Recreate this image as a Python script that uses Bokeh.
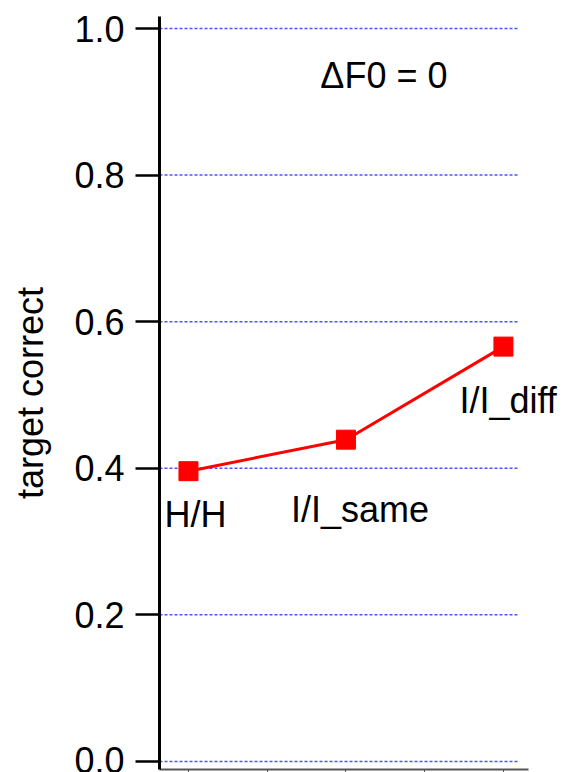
from bokeh.plotting import figure
from bokeh.models import ColumnDataSource, Label, FixedTicker, PrintfTickFormatter, Range1d
from bokeh.embed import file_html
from bokeh.resources import INLINE

conditions = ["H/H", "I/I_same", "I/I_diff"]
cond_x = [0, 1, 2]
target_correct = [0.396, 0.439, 0.566]
y_ticks = [0.0, 0.2, 0.4, 0.6, 0.8, 1.0]
x_ticks = [0, 0.5, 1, 1.5, 2]
note = "\u0394F0 = 0"

FONT = "Liberation Sans"
X_LEFT, X_AXIS_END, GRID_END = -0.184, 2.159, 2.095

source = ColumnDataSource(dict(x=cond_x, y=target_correct, name=conditions))

p = figure(width=565, height=772,
           x_range=Range1d(X_LEFT, 2.394),
           y_range=Range1d(-0.011, 1.0164),
           output_backend="svg", toolbar_location=None,
           min_border_left=159, min_border_right=0,
           min_border_top=16, min_border_bottom=0)
p.outline_line_color = None
p.background_fill_color = "white"
p.border_fill_color = "white"

# y axis
p.yaxis.ticker = FixedTicker(ticks=y_ticks)
p.yaxis.formatter = PrintfTickFormatter(format="%.1f")
p.yaxis.axis_label = "target correct"
p.yaxis.axis_label_text_font = FONT
p.yaxis.axis_label_text_font_style = "normal"
p.yaxis.axis_label_text_font_size = "36px"
p.yaxis.axis_label_text_color = "black"
p.yaxis.axis_label_standoff = 20
p.yaxis.major_label_text_font = FONT
p.yaxis.major_label_text_font_size = "36px"
p.yaxis.major_label_text_color = "black"
p.yaxis.major_label_standoff = 11
p.yaxis.axis_line_width = 3
p.yaxis.axis_line_color = "black"
p.yaxis.major_tick_line_width = 2.5
p.yaxis.major_tick_line_color = "black"
p.yaxis.major_tick_out = 24
p.yaxis.major_tick_in = 0
p.yaxis.minor_tick_line_color = None

# x axis: just a grey line with tiny ticks, no labels
p.xaxis.ticker = FixedTicker(ticks=x_ticks)
p.xaxis.bounds = (X_LEFT, X_AXIS_END)
p.xaxis.major_label_overrides = {t: "" for t in x_ticks}
p.xaxis.major_label_standoff = 0
p.xaxis.axis_line_color = "#555555"
p.xaxis.axis_line_width = 2
p.xaxis.major_tick_line_color = "#555555"
p.xaxis.major_tick_out = 3
p.xaxis.major_tick_in = 0
p.xaxis.minor_tick_line_color = None

# dotted horizontal grid, stopping short of the right edge
p.xgrid.grid_line_color = None
p.ygrid.grid_line_color = None
p.segment(x0=[X_LEFT] * len(y_ticks), x1=[GRID_END] * len(y_ticks),
          y0=y_ticks, y1=y_ticks, line_color="#5050ff", line_width=1.5,
          line_dash="3 2")

p.line(x="x", y="y", source=source, line_color="red", line_width=3)
p.scatter(x="x", y="y", source=source, marker="square", size=19,
          fill_color="red", line_color="red")

offsets = [(-24, -43), (-55, -70), (-44, -54)]
for xv, yv, name, (dx, dy) in zip(cond_x, target_correct, conditions, offsets):
    p.add_layout(Label(x=xv, y=yv, text=name, x_offset=dx, y_offset=dy,
                       text_font=FONT, text_font_size="36px", text_color="black",
                       text_align="left", text_baseline="alphabetic"))

p.add_layout(Label(x=1.241, y=0.936, text=note, text_font=FONT,
                   text_font_size="36px", text_color="black",
                   text_align="center", text_baseline="alphabetic"))

open("out.html", "w").write(file_html(p, INLINE))
